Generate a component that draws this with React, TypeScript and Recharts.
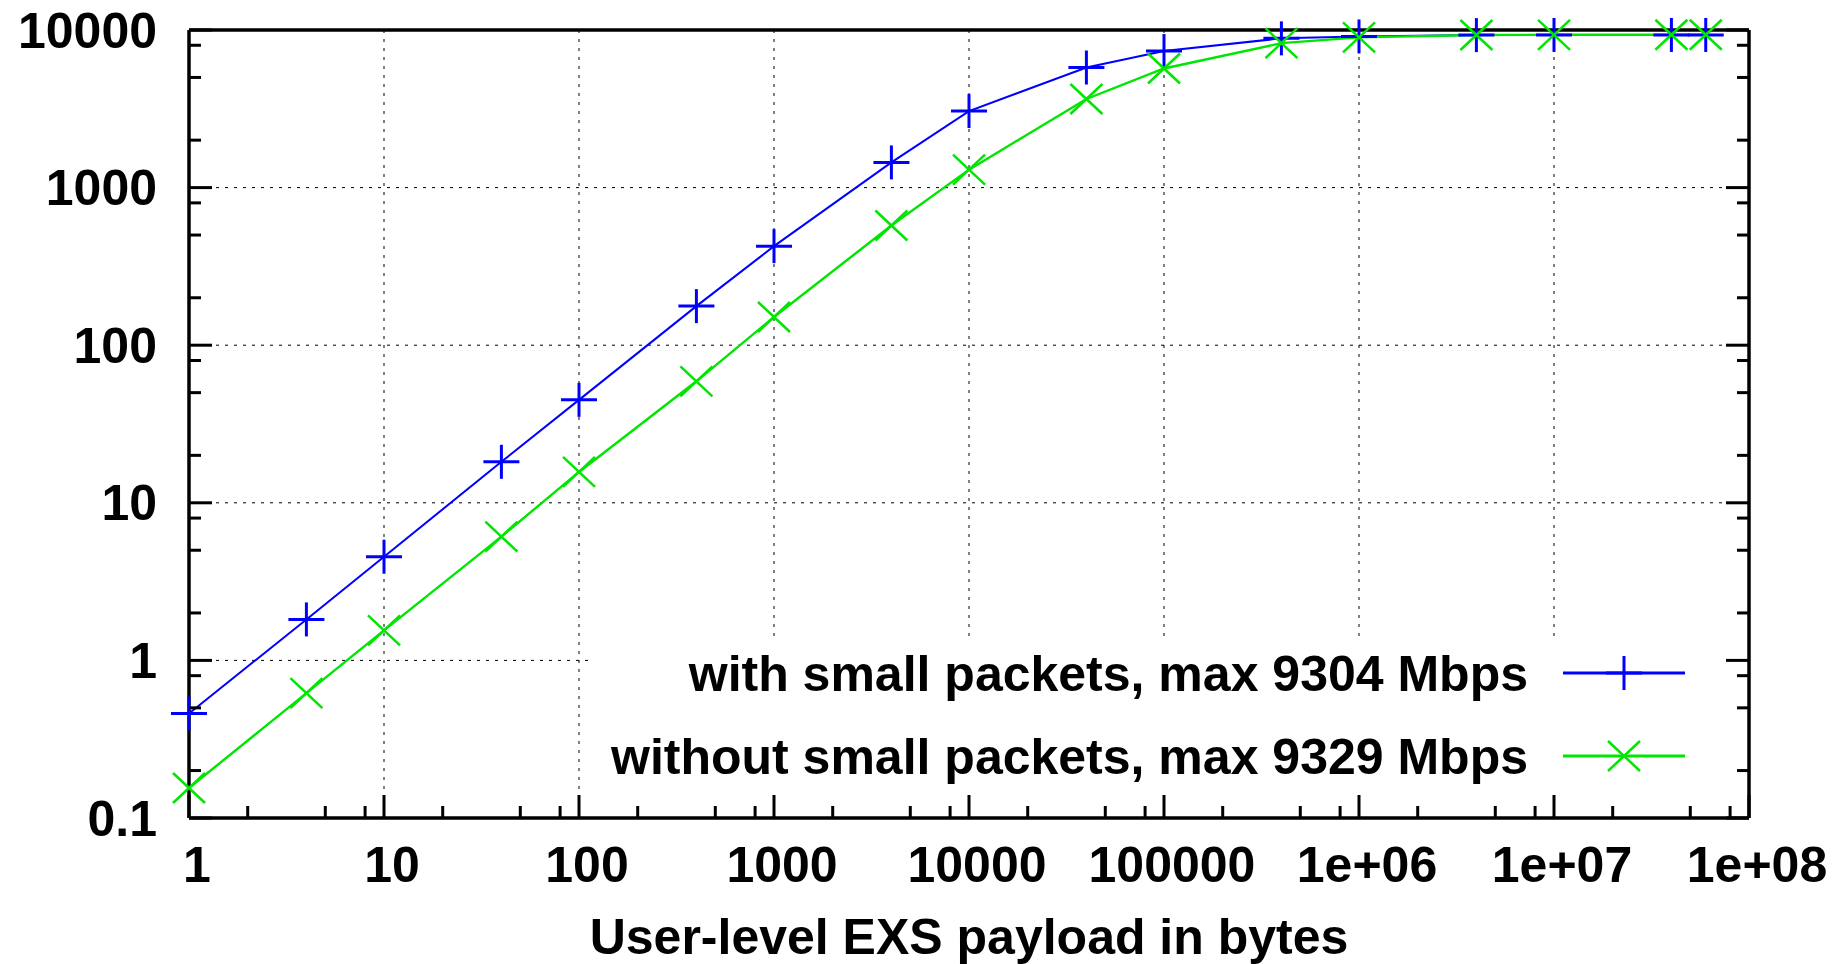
import React from 'react';
import { LineChart, Line, XAxis, YAxis, CartesianGrid, ReferenceArea, Legend, Label } from 'recharts';

// payload size in bytes
const sizes = [1, 4, 10, 40, 100, 400, 1000, 4000, 10000, 40000, 100000, 400000, 1000000, 4000000, 10000000, 40000000, 60000000];
// throughput in Mbps
const withSmall = [0.46, 1.82, 4.55, 18.2, 45, 177, 425, 1445, 3060, 5780, 7350, 8850, 9100, 9280, 9300, 9304, 9300];
const withoutSmall = [0.155, 0.62, 1.55, 6.1, 15.7, 59, 151, 575, 1300, 3650, 5700, 8250, 8980, 9300, 9320, 9329, 9325];

const seriesNames = ['with small packets, max 9304 Mbps', 'without small packets, max 9329 Mbps'];
const xTitle = 'User-level EXS payload in bytes';

const xMajor = [1, 10, 100, 1000, 10000, 100000, 1000000, 10000000, 100000000];
const xTickLabels = ['1', '10', '100', '1000', '10000', '100000', '1e+06', '1e+07', '1e+08'];
const yMajor = [0.1, 1, 10, 100, 1000, 10000];
const yTickLabels = ['0.1', '1', '10', '100', '1000', '10000'];
const minorSteps = [2, 5, 8];

const withMinor = (majors: number[]) => {
  const out: number[] = [];
  majors.forEach((m, i) => {
    out.push(m);
    if (i < majors.length - 1) minorSteps.forEach((s) => out.push(m * s));
  });
  return out;
};
const xTicks = withMinor(xMajor);
const yTicks = withMinor(yMajor);
const xGrid = xMajor.slice(1, -1);
const yGrid = yMajor.slice(1, -1);

// opaque key box (data coords)
const KEY_X = [117, 100000000];
const KEY_Y = [0.1, 1.43];

const data = sizes.map((s, i) => ({ size: s, withSmall: withSmall[i], withoutSmall: withoutSmall[i] }));

const FONT = '"Liberation Sans", Arial, Helvetica, sans-serif';
const BLUE = '#0000ff';
const GREEN = '#00e600';
const MAJOR_LEN = 23;
const MINOR_LEN = 12;

const findMajor = (majors: number[], v: number) => majors.findIndex((m) => Math.abs(m - v) / m < 1e-6);

const textStyle = { fontFamily: FONT, fontSize: 50, fontWeight: 700, fill: '#000' };

const bottomTick = (props: any) => {
  const { x, y, payload } = props;
  const idx = findMajor(xMajor, payload.value);
  const len = idx >= 0 ? MAJOR_LEN : MINOR_LEN;
  return (
    <g>
      <line x1={x} y1={y} x2={x} y2={y - len} stroke="#000" strokeWidth={3} />
      {idx >= 0 && (
        <text x={x + 8} y={y + 64} textAnchor="middle" style={textStyle}>
          {xTickLabels[idx]}
        </text>
      )}
    </g>
  );
};

const topTick = (props: any) => {
  const { x, y, payload } = props;
  const len = findMajor(xMajor, payload.value) >= 0 ? MAJOR_LEN : MINOR_LEN;
  return <line x1={x} y1={y} x2={x} y2={y + len} stroke="#000" strokeWidth={3} />;
};

const leftTick = (props: any) => {
  const { x, y, payload } = props;
  const idx = findMajor(yMajor, payload.value);
  const len = idx >= 0 ? MAJOR_LEN : MINOR_LEN;
  return (
    <g>
      <line x1={x} y1={y} x2={x + len} y2={y} stroke="#000" strokeWidth={3} />
      {idx >= 0 && (
        <text x={x - 32} y={y + 17.5} textAnchor="end" style={textStyle}>
          {yTickLabels[idx]}
        </text>
      )}
    </g>
  );
};

const rightTick = (props: any) => {
  const { x, y, payload } = props;
  const len = findMajor(yMajor, payload.value) >= 0 ? MAJOR_LEN : MINOR_LEN;
  return <line x1={x} y1={y} x2={x - len} y2={y} stroke="#000" strokeWidth={3} />;
};

const PlusMark = ({ cx, cy, color }: { cx: number; cy: number; color: string }) => (
  <g stroke={color} strokeWidth={3}>
    <line x1={cx - 18} y1={cy} x2={cx + 18} y2={cy} />
    <line x1={cx} y1={cy - 17} x2={cx} y2={cy + 17} />
  </g>
);

const CrossMark = ({ cx, cy, color }: { cx: number; cy: number; color: string }) => (
  <g stroke={color} strokeWidth={2.5}>
    <line x1={cx - 16} y1={cy - 15} x2={cx + 16} y2={cy + 15} />
    <line x1={cx - 16} y1={cy + 15} x2={cx + 16} y2={cy - 15} />
  </g>
);

const renderLegend = (props: any) => {
  const payload = props.payload || [];
  return (
    <svg width={1100} height={180}>
      {payload.map((entry: any, i: number) => {
        const cy = i === 0 ? 45 : 128;
        return (
          <g key={entry.value}>
            <text x={920} y={cy + 17.5} textAnchor="end" style={textStyle}>
              {entry.value}
            </text>
            <line x1={955} y1={cy} x2={1077} y2={cy} stroke={entry.color} strokeWidth={3} />
            {i === 0 ? (
              <PlusMark cx={1016} cy={cy} color={entry.color} />
            ) : (
              <CrossMark cx={1016} cy={cy} color={entry.color} />
            )}
          </g>
        );
      })}
    </svg>
  );
};

const TitleLabel = (props: any) => {
  const vb = props.viewBox;
  return (
    <text x={vb.x + vb.width / 2} y={vb.y + 136} textAnchor="middle" style={textStyle}>
      {xTitle}
    </text>
  );
};

export default function App() {
  return (
    <div style={{ width: 1845, height: 964, overflow: 'hidden' }}>
      <style>{'body { margin: 0; overflow: hidden; }'}</style>
      <LineChart
        width={1845}
        height={964}
        data={data}
        margin={{ top: 29, right: 95, bottom: 145, left: 188 }}
      >
        <CartesianGrid
          horizontalValues={yGrid}
          verticalValues={xGrid}
          stroke="#000"
          strokeWidth={1}
          strokeDasharray="3 6"
        />
        <ReferenceArea x1={KEY_X[0]} x2={KEY_X[1]} y1={KEY_Y[0]} y2={KEY_Y[1]} fill="#fff" fillOpacity={1} stroke="none" />
        <Line
          type="linear"
          dataKey="withSmall"
          name={seriesNames[0]}
          stroke={BLUE}
          strokeWidth={2}
          dot={(p: any) => <PlusMark key={`p${p.index}`} cx={p.cx} cy={p.cy} color={BLUE} />}
          activeDot={false}
          isAnimationActive={false}
        />
        <Line
          type="linear"
          dataKey="withoutSmall"
          name={seriesNames[1]}
          stroke={GREEN}
          strokeWidth={2.4}
          dot={(p: any) => <CrossMark key={`c${p.index}`} cx={p.cx} cy={p.cy} color={GREEN} />}
          activeDot={false}
          isAnimationActive={false}
        />
        <XAxis
          dataKey="size"
          type="number"
          scale="log"
          domain={[1, 100000000]}
          ticks={xTicks}
          interval={0}
          height={1}
          tickSize={0}
          tickMargin={0}
          tick={bottomTick}
          axisLine={{ stroke: '#000', strokeWidth: 3.5 }}
        >
          <Label content={TitleLabel} />
        </XAxis>
        <XAxis
          xAxisId="top"
          orientation="top"
          type="number"
          scale="log"
          domain={[1, 100000000]}
          allowDataOverflow
          ticks={xTicks}
          interval={0}
          height={1}
          tickSize={0}
          tickMargin={0}
          tick={topTick}
          axisLine={{ stroke: '#000', strokeWidth: 3.5 }}
        />
        <YAxis
          type="number"
          scale="log"
          domain={[0.1, 10000]}
          ticks={yTicks}
          interval={0}
          width={1}
          tickSize={0}
          tickMargin={0}
          tick={leftTick}
          axisLine={{ stroke: '#000', strokeWidth: 3.5 }}
        />
        <YAxis
          yAxisId="right"
          orientation="right"
          type="number"
          scale="log"
          domain={[0.1, 10000]}
          allowDataOverflow
          ticks={yTicks}
          interval={0}
          width={1}
          tickSize={0}
          tickMargin={0}
          tick={rightTick}
          axisLine={{ stroke: '#000', strokeWidth: 3.5 }}
        />
        <Legend
          layout="vertical"
          align="center"
          verticalAlign="middle"
          wrapperStyle={{ left: 608, top: 628, width: 1100, height: 180 }}
          content={renderLegend}
        />
      </LineChart>
    </div>
  );
}
